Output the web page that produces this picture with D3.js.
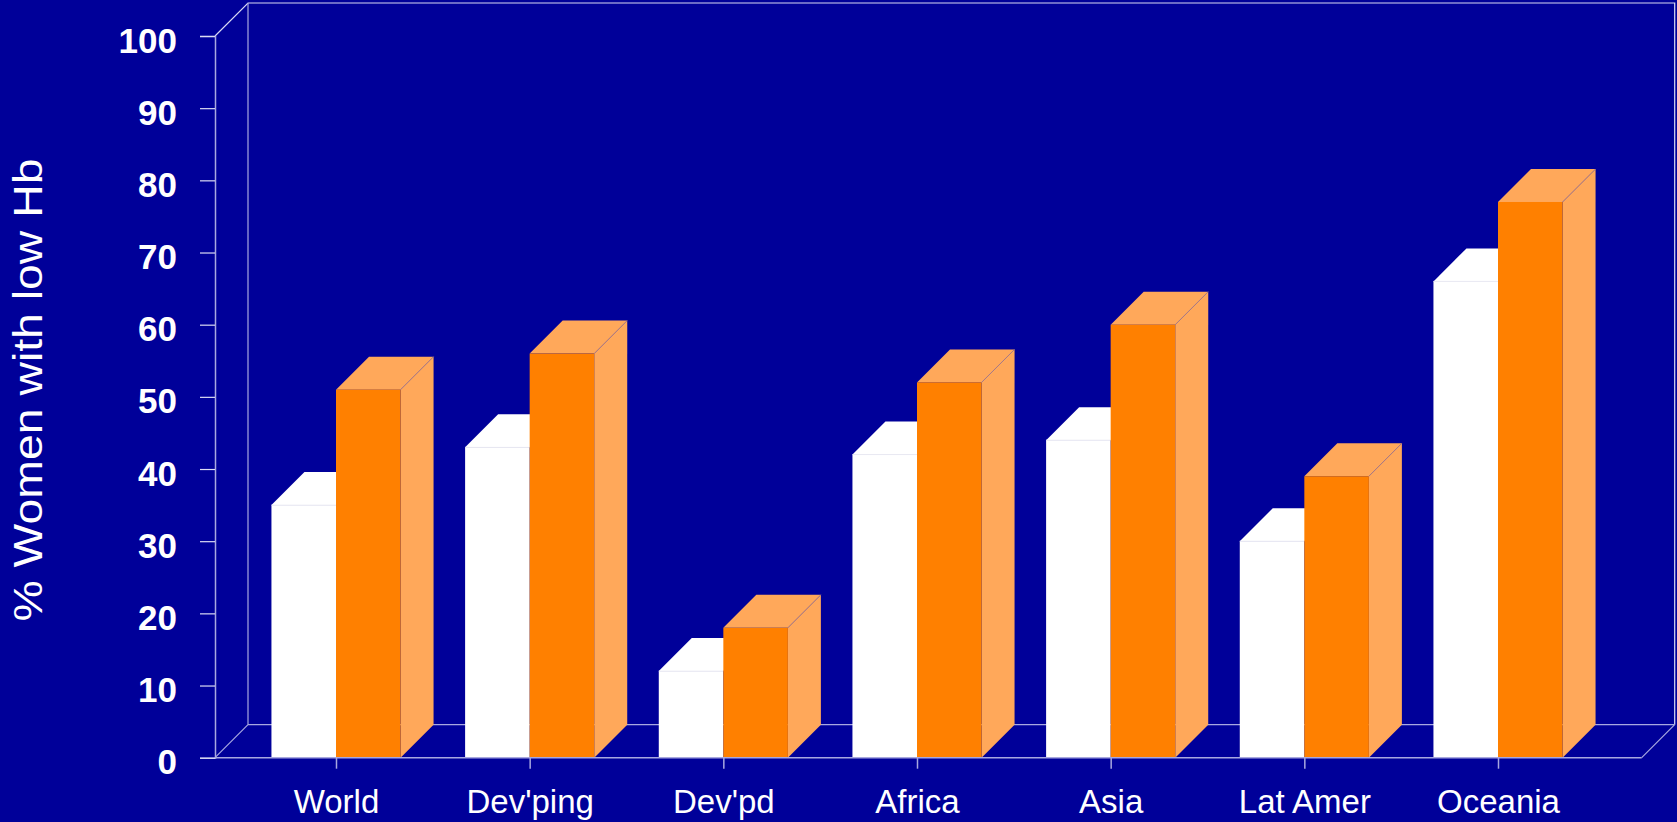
<!DOCTYPE html>
<html>
<head>
<meta charset="utf-8">
<script src="https://cdn.jsdelivr.net/npm/d3@7"></script>
<style>
  html, body { margin: 0; padding: 0; background: #000099; overflow: hidden; }
  svg { display: block; }
</style>
</head>
<body>
<script>
// Regions and the share of women with low haemoglobin in each (two series)
const categories = ["World", "Dev'ping", "Dev'pd", "Africa", "Asia", "Lat Amer", "Oceania"];
const whiteValues = [35, 43, 12, 42, 44, 30, 66];
const orangeValues = [51, 56, 18, 52, 60, 39, 77];
const yTickValues = [0, 10, 20, 30, 40, 50, 60, 70, 80, 90, 100];
const yTitle = "% Women with low Hb";

const W = 1677, H = 822;
const bg = "#000099";
const lineCol = "#a8a8e0";
const orangeFront = "#ff8000";
const orangeLight = "#ffa85a";

// plot frame (front plane) and 3D depth
const frontLeft = 215, frontRight = 1641.7;
const yBottom = 757.7, yTop = 36;
const depth = 33;

const svg = d3.select("body").append("svg")
  .attr("width", W).attr("height", H);
svg.append("rect").attr("width", W).attr("height", H).attr("fill", bg);

const y = d3.scaleLinear().domain([0, 100]).range([yBottom, yTop]);
const x = d3.scalePoint().domain(categories).range([336, 1498]);
const barW = x.step() / 3;

// back wall and floor outline
const frame = svg.append("g").attr("fill", "none").attr("stroke-width", 1.2);
frame.append("path")
  .attr("stroke", "#d8d8f4")
  .attr("d", `M${frontLeft},${y(100)}L${frontLeft + depth},${y(100) - depth}` +
             `H${frontRight + depth}V${yBottom - depth}`);
frame.append("path")
  .attr("stroke", lineCol)
  .attr("d", `M${frontLeft + depth},${y(100) - depth}V${yBottom - depth}H${frontRight + depth}` +
             `M${frontLeft},${yBottom}L${frontLeft + depth},${yBottom - depth}` +
             `M${frontRight},${yBottom}L${frontRight + depth},${yBottom - depth}`);

// bars
const bars = svg.append("g");
categories.forEach((c, i) => {
  const cx = x(c);
  // white bar (left of the category tick)
  const yw = y(whiteValues[i]);
  const xl = cx - barW;
  bars.append("path").attr("fill", "#ffffff")
    .attr("d", `M${xl},${yw}L${xl + depth},${yw - depth}H${cx + depth}L${cx},${yw}Z`);
  bars.append("rect").attr("fill", "#ffffff")
    .attr("x", xl).attr("y", yw).attr("width", barW).attr("height", yBottom - yw);
  bars.append("line").attr("stroke", "#eeeef4").attr("stroke-width", 1)
    .attr("x1", xl).attr("x2", cx).attr("y1", yw).attr("y2", yw);

  // orange bar (right of the category tick)
  const yo = y(orangeValues[i]);
  const xr = cx + barW;
  bars.append("path").attr("fill", orangeLight)
    .attr("d", `M${cx},${yo}L${cx + depth},${yo - depth}H${xr + depth}L${xr},${yo}Z`);
  bars.append("path").attr("fill", orangeLight)
    .attr("d", `M${xr},${yo}L${xr + depth},${yo - depth}V${yBottom - depth}L${xr},${yBottom}Z`);
  bars.append("rect").attr("fill", orangeFront)
    .attr("x", cx).attr("y", yo).attr("width", barW).attr("height", yBottom - yo);
  bars.append("line").attr("stroke", "#a07890").attr("stroke-width", 0.8)
    .attr("x1", xr).attr("y1", yo).attr("x2", xr + depth).attr("y2", yo - depth);
});

// front floor edge
svg.append("line").attr("stroke", lineCol).attr("stroke-width", 1.5)
  .attr("x1", frontLeft).attr("x2", frontRight).attr("y1", yBottom).attr("y2", yBottom);

// y axis
const yAxis = d3.axisLeft(y).tickValues(yTickValues).tickSize(15).tickPadding(23);
const gy = svg.append("g").attr("transform", `translate(${frontLeft},0)`).call(yAxis);
gy.select(".domain").attr("stroke", lineCol).attr("stroke-width", 1.5);
gy.selectAll(".tick line").attr("stroke", "#dcdcf4").attr("stroke-width", 1.2);
gy.selectAll(".tick text")
  .attr("fill", "#ffffff")
  .attr("dy", "16px")
  .style("font-family", "'Liberation Sans', Arial, Helvetica, sans-serif")
  .style("font-weight", "bold")
  .style("font-size", "35px");

// x axis (category ticks and labels)
const xAxis = d3.axisBottom(x).tickSize(11).tickPadding(21);
const gx = svg.append("g").attr("transform", `translate(0,${yBottom})`).call(xAxis);
gx.select(".domain").remove();
gx.selectAll(".tick line").attr("stroke", lineCol).attr("stroke-width", 1.5);
gx.selectAll(".tick text")
  .attr("fill", "#ffffff")
  .attr("dy", "0.71em")
  .style("font-family", "'Liberation Sans', Arial, Helvetica, sans-serif")
  .style("font-size", "33px");

// y axis title
svg.append("text")
  .attr("transform", "translate(42,390) rotate(-90)")
  .attr("text-anchor", "middle")
  .attr("fill", "#ffffff")
  .attr("textLength", 463)
  .attr("lengthAdjust", "spacingAndGlyphs")
  .style("font-family", "'Liberation Sans', Arial, Helvetica, sans-serif")
  .style("font-size", "41px")
  .text(yTitle);
</script>
</body>
</html>
